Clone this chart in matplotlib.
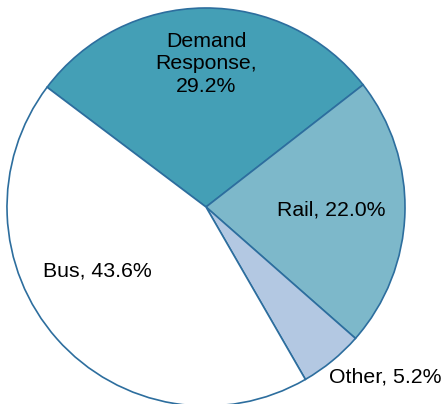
import matplotlib.pyplot as plt

# categories and shares (clockwise from the top-left edge)
categorias = ['Demand\nResponse,\n29.2%', 'Rail, 22.0%', 'Other, 5.2%', 'Bus, 43.6%']
valores = [29.2, 22.0, 5.2, 43.6]
colores = ['#449fb6', '#7db8ca', '#b3c8e2', '#ffffff']
# label positions in pie units (radius = 1)
pos_etiquetas = [(0.0, 0.72), (0.63, -0.015), (0.9, -0.855), (-0.545, -0.32)]

plt.rcParams['font.family'] = ['Liberation Sans', 'DejaVu Sans']

fig = plt.figure(figsize=(4.46, 4.04), dpi=100)
ax = fig.add_axes([7/446, -2/404, 398/446, 398/404])
ax.pie(valores, colors=colores, startangle=143, counterclock=False, radius=1,
       wedgeprops=dict(edgecolor='#2d6e9e', linewidth=1.2))
for texto, (x, y) in zip(categorias, pos_etiquetas):
    ax.text(x, y, texto, ha='center', va='center', fontsize=15.3, color='black',
            linespacing=1.22, clip_on=False)
ax.set_xlim(-1, 1)
ax.set_ylim(-1, 1)
ax.set_aspect('equal')
ax.axis('off')
fig.savefig('out.png', dpi=100)
